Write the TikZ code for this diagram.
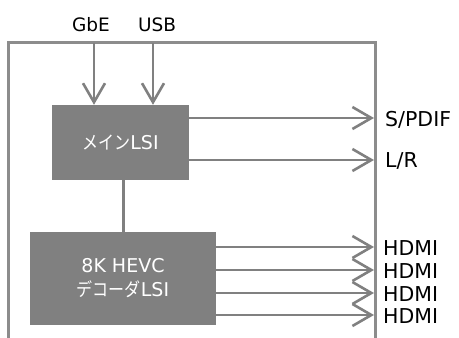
\documentclass[tikz,border=0pt]{standalone}
\usepackage{fontspec}
\setmainfont{DejaVu Sans}
\newfontfamily\jp{Noto Sans CJK JP}[Scale=0.98, FakeStretch=0.86]
\usetikzlibrary{arrows.meta}
\definecolor{boxgray}{HTML}{808080}
\definecolor{linegray}{HTML}{808080}
\definecolor{framegray}{HTML}{8C8C8C}
\tikzset{
  lsibox/.style={fill=boxgray, draw=none, text=white, align=center,
    font=\fontsize{19}{24}\selectfont, inner sep=0pt},
  sig/.style={draw=linegray, line width=2.8pt,
    -{Straight Barb[length=19pt, width=22pt, line width=2.6pt]}},
  link/.style={draw=linegray, line width=2.8pt},
  frame/.style={draw=framegray, line width=3pt},
  toplabel/.style={font=\fontsize{18.5}{20}\selectfont, inner sep=0pt},
  outlabel/.style={font=\fontsize{20.5}{20}\selectfont, inner sep=0pt, anchor=west},
}
\begin{document}
\begin{tikzpicture}[x=1pt, y=-1pt]
\useasboundingbox (0,0) rectangle (459,338);
% frame
\coordinate (fbl) at (8,340);
\coordinate (ftl) at (8,42.5);
\coordinate (ftr) at (375,42.5);
\coordinate (fbr) at (375,340);
\draw[frame] (fbl) -- (ftl) -- (ftr) -- (fbr);
% boxes
\node[lsibox, minimum width=137pt, minimum height=75pt] (main) at (120.5,142.5) {{\jp メイン}LSI};
\node[lsibox, minimum width=186pt, minimum height=93pt] (dec) at (123,278.5) {8K HEVC\\{\jp デコーダ}LSI};
\draw[link] (main.south -| 123.7,0) -- (dec.north -| 123.7,0);
% inputs
\node[toplabel] (gbe) at (91,24.5) {GbE};
\node[toplabel] (usb) at (157,24.5) {USB};
\coordinate (gin) at (94,42.5);
\coordinate (uin) at (153,42.5);
\draw[sig] (gin) -- (gin |- main.north);
\draw[sig] (uin) -- (uin |- main.north);
% audio outputs
\node[outlabel] (spdif) at (385,119.5) {S/PDIF};
\node[outlabel] (lr) at (385,161) {L/R};
\coordinate (sp) at (374,118);
\coordinate (lrp) at (374,160);
\draw[sig] (main.east |- sp) -- (sp);
\draw[sig] (main.east |- lrp) -- (lrp);
% HDMI outputs
\foreach \y/\n in {247/h1, 270/h2, 293/h3, 315/h4}{
  \node[outlabel] (\n) at (383,\y+1.5) {HDMI};
  \coordinate (\n p) at (374,\y);
  \draw[sig] (dec.east |- \n p) -- (\n p);
}
\end{tikzpicture}
\end{document}
